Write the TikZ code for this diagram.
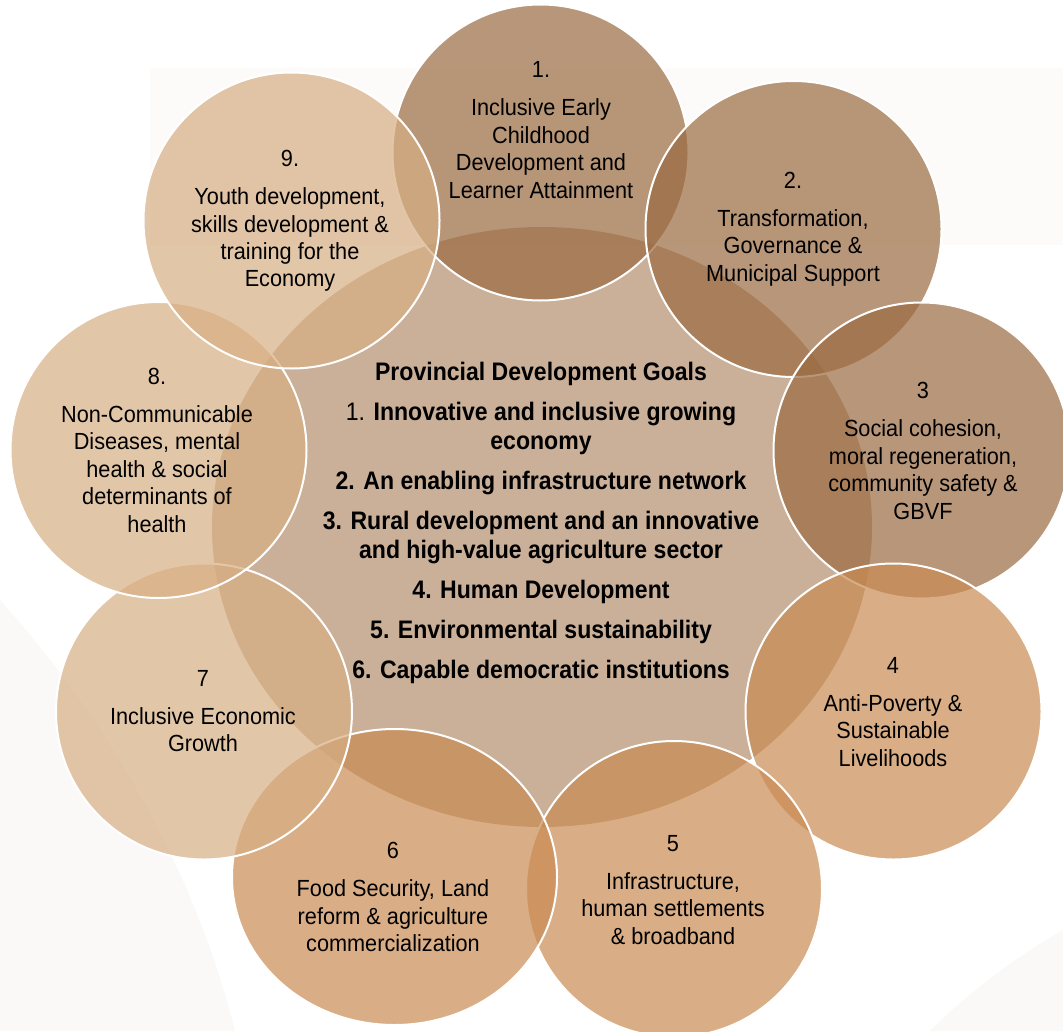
\documentclass[tikz,border=0pt]{standalone}
\usepackage{fontspec}
\setmainfont{Liberation Sans}
\newfontfamily\circfont{Liberation Sans}[FakeStretch=0.93]
\newfontfamily\goalfont{Liberation Sans}[FakeStretch=0.91]
\usetikzlibrary{shapes.geometric}
\definecolor{cA}{RGB}{154,106,65}
\definecolor{cB}{RGB}{201,139,82}
\definecolor{cC}{RGB}{214,174,131}
\definecolor{cCen}{RGB}{179,142,108}
\definecolor{bgfaint}{RGB}{253,251,249}
\definecolor{swoosh}{RGB}{240,238,236}
\begin{document}
\begin{tikzpicture}[x=0.75pt,y=-0.75pt,
  disc/.style={circle, draw=white, line width=1.5pt, fill opacity=0.7, minimum size=222pt, inner sep=0pt},
  oval/.style={ellipse, fill opacity=0.7, inner sep=0pt},
  lbl/.style={align=center, text=black, font=\circfont\fontsize{17.5}{20.6}\selectfont, inner sep=0pt},
  goals/.style={align=center, text=black, font=\goalfont\bfseries\fontsize{19}{21.75}\selectfont, inner sep=0pt}]
\useasboundingbox (0,0) rectangle (1063,1031);
% faint background
\fill[bgfaint] (150,68) rectangle (1063,245);
\fill[swoosh, opacity=0.35] (0,600) .. controls (90,700) and (190,850) .. (235,1031) -- (0,1031) -- cycle;
\fill[swoosh, opacity=0.35] (1063,930) .. controls (1010,960) and (960,1000) .. (930,1031) -- (1063,1031) -- cycle;
% central ellipse
\node (core) [oval, fill=cCen, minimum width=495pt, minimum height=450pt] at (542,527) {};
% outer circles, drawn in order 1..9
\node (c1) [disc, fill=cA] at (540.5,152.5) {};
\node (c2) [disc, fill=cA] at (793.5,229) {};
\node (c3) [disc, fill=cA] at (921.5,450.5) {};
\node (c4) [disc, fill=cB] at (893.5,711.5) {};
\node (c5) [disc, fill=cB] at (674,889) {};
\node (c6) [oval, draw=white, line width=1.5pt, fill=cB, minimum width=243.75pt, minimum height=222pt] at (394.5,877) {};
\node (c7) [disc, fill=cC] at (204,711.5) {};
\node (c8) [disc, fill=cC] at (158.5,450) {};
\node (c9) [disc, fill=cC] at (291.5,220.5) {};
% texts
\node (t1) [lbl] at (541,130) {1.\\[8pt]Inclusive Early\\Childhood\\Development and\\Learner Attainment};
\node (t2) [lbl] at (793,229) {2.\\[8pt]Transformation,\\Governance \&\\Municipal Support};
\node (t3) [lbl] at (923,451) {3\\[8pt]Social cohesion,\\moral regeneration,\\community safety \&\\GBVF};
\node (t4) [lbl] at (893,712) {4\\[8pt]Anti-Poverty \&\\Sustainable\\Livelihoods};
\node (t5) [lbl] at (673,890) {5\\[8pt]Infrastructure,\\human settlements\\\& broadband};
\node (t6) [lbl] at (393,897) {6\\[8pt]Food Security, Land\\reform \& agriculture\\commercialization};
\node (t7) [lbl] at (203,711) {7\\[8pt]Inclusive Economic\\Growth};
\node (t8) [lbl] at (157,450) {8.\\[8pt]Non-Communicable\\Diseases, mental\\health \& social\\determinants of\\health};
\node (t9) [lbl] at (290,221) {9.\\[8pt]Youth development,\\skills development \&\\training for the\\Economy};
\node (goalstext) [goals] at (541,523) {Provincial Development Goals\\[8.25pt]
{\mdseries 1.} Innovative and inclusive growing\\economy\\[8.25pt]
2. An enabling infrastructure network\\[8.25pt]
3. Rural development and an innovative\\and high-value agriculture sector\\[8.25pt]
4. Human Development\\[8.25pt]
5. Environmental sustainability\\[8.25pt]
6. Capable democratic institutions};
\end{tikzpicture}
\end{document}
